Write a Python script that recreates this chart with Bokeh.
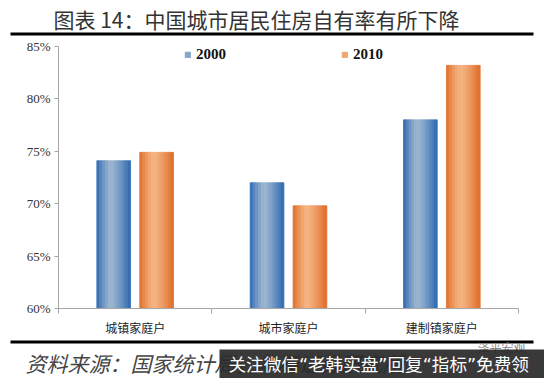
from bokeh.plotting import figure
from bokeh.layouts import column
from bokeh.models import (Range1d, FixedTicker, NumeralTickFormatter, Legend, LegendItem,
                          Label, BoxAnnotation)
from bokeh.embed import file_html
from bokeh.resources import INLINE

# ---- data ----
categories = ["城镇家庭户", "城市家庭户", "建制镇家庭户"]
series_names = ["2000", "2010"]
values_2000 = [0.741, 0.720, 0.780]
values_2010 = [0.749, 0.698, 0.832]
y_ticks = [0.60, 0.65, 0.70, 0.75, 0.80, 0.85]

title_text = "图表 14：中国城市居民住房自有率有所下降"
source_text = "资料来源：国家统计局，华泰证券研究所"
watermark_text = "关注微信“老韩实盘”回复“指标”免费领"
logo_text = "泽平宏观"

# ---- style ----
W = 544
TOP_H, MAIN_H, BOT_H = 38, 300, 40
BAR_W = 0.22
OFFSET = 0.14
N_SLICES = 12
blue_edge, blue_mid = (44, 104, 176), (156, 182, 208)
orange_edge, orange_mid = (222, 108, 40), (246, 180, 130)
CJK = "Noto Sans CJK SC"


def shade(edge, mid, t):
    peak = 0.42
    d = abs(t - peak) / (peak if t < peak else 1 - peak)
    d = min(1.0, d) ** 1.3
    c = [round(m + (e - m) * d) for e, m in zip(edge, mid)]
    return "#%02x%02x%02x" % tuple(c)


def blank(h):
    f = figure(width=W, height=h, output_backend="svg", toolbar_location=None,
               x_range=Range1d(0, W), y_range=Range1d(h, 0),
               x_axis_type=None, y_axis_type=None,
               min_border=0, min_border_left=0, min_border_right=0,
               min_border_top=0, min_border_bottom=0, frame_align=False)
    f.outline_line_color = None
    f.grid.visible = False
    f.title.visible = False
    return f


# ---- top: title + rule ----
top = blank(TOP_H)
top.add_layout(Label(x=53, y=18, text=title_text, text_align="left", text_baseline="middle",
                     text_font=CJK, text_font_size="21px", text_color="#333333"))
top.add_layout(BoxAnnotation(left=10, right=533, top=32, bottom=35,
                             fill_color="black", fill_alpha=1, line_color=None))

# ---- main chart ----
p = figure(width=W, height=MAIN_H, output_backend="svg", toolbar_location=None,
           x_range=Range1d(0, len(categories)), y_range=Range1d(0.60, 0.85),
           min_border_left=58, min_border_right=26, min_border_top=8, min_border_bottom=25,
           frame_align=False)
p.outline_line_color = None
p.grid.visible = False

centers = [i + 0.5 for i in range(len(categories))]
legend_renderers = []
for vals, off, edge, mid in [(values_2000, -OFFSET, blue_edge, blue_mid),
                             (values_2010, OFFSET, orange_edge, orange_mid)]:
    sw = BAR_W / N_SLICES
    rep = None
    for k in range(N_SLICES):
        t = (k + 0.5) / N_SLICES
        col = shade(edge, mid, t)
        xs = [c + off - BAR_W / 2 + (k + 0.5) * sw for c in centers]
        r = p.vbar(x=xs, top=vals, bottom=0.60, width=sw,
                   fill_color=col, line_color=col, line_width=0.8)
        if k == N_SLICES // 4:
            rep = r
    legend_renderers.append(rep)

yax = p.yaxis[0]
yax.ticker = FixedTicker(ticks=y_ticks)
yax.formatter = NumeralTickFormatter(format="0%")
yax.axis_line_color = "#a6a6a6"
yax.major_tick_line_color = "#a6a6a6"
yax.major_tick_out = 4
yax.major_tick_in = 0
yax.minor_tick_line_color = None
yax.major_label_text_font = "Liberation Serif"
yax.major_label_text_font_size = "13px"
yax.major_label_text_color = "#333333"
yax.major_label_standoff = 4

xax = p.xaxis[0]
xax.ticker = FixedTicker(ticks=centers, minor_ticks=list(range(len(categories) + 1)))
xax.major_label_overrides = {c: name for c, name in zip(centers, categories)}
xax.axis_line_color = "#a6a6a6"
xax.major_tick_line_color = None
xax.major_tick_out = 0
xax.minor_tick_line_color = "#a6a6a6"
xax.minor_tick_out = 5
xax.minor_tick_in = 0
xax.major_label_text_font = CJK
xax.major_label_text_font_size = "12px"
xax.major_label_text_color = "#222222"
xax.major_label_standoff = 5

legend = Legend(items=[LegendItem(label=n, renderers=[r]) for n, r in zip(series_names, legend_renderers)],
                orientation="horizontal", location=(126, 245),
                glyph_width=7, glyph_height=7, label_height=12, label_standoff=5, spacing=115,
                padding=0, margin=0, border_line_color=None, background_fill_alpha=0,
                label_text_font="Liberation Serif", label_text_font_style="bold",
                label_text_font_size="15px", label_text_color="#111111")
p.add_layout(legend, "center")

# ---- bottom: rule, source, watermark ----
bot = blank(BOT_H)
bot.add_layout(BoxAnnotation(left=10, right=533, top=2, bottom=5,
                             fill_color="black", fill_alpha=1, line_color=None))
bot.add_layout(Label(x=25, y=24, text=source_text, text_align="left", text_baseline="middle",
                     text_font=CJK, text_font_style="italic", text_font_size="21px",
                     text_color="#444444"))
bot.add_layout(Label(x=477, y=9, text=logo_text, text_align="left", text_baseline="middle",
                     text_font=CJK, text_font_size="12px", text_color="#888888"))
bot.add_layout(BoxAnnotation(left=219, right=W, top=11, bottom=BOT_H,
                             fill_color="#2a2a2a", fill_alpha=0.93, line_color=None))
bot.add_layout(Label(x=228, y=26, text=watermark_text, text_align="left", text_baseline="middle",
                     text_font="DejaVu Sans, Noto Sans CJK SC", text_font_size="17.6px",
                     text_color="white"))

layout = column(top, p, bot, spacing=0)
open("out.html", "w").write(file_html(layout, INLINE))
